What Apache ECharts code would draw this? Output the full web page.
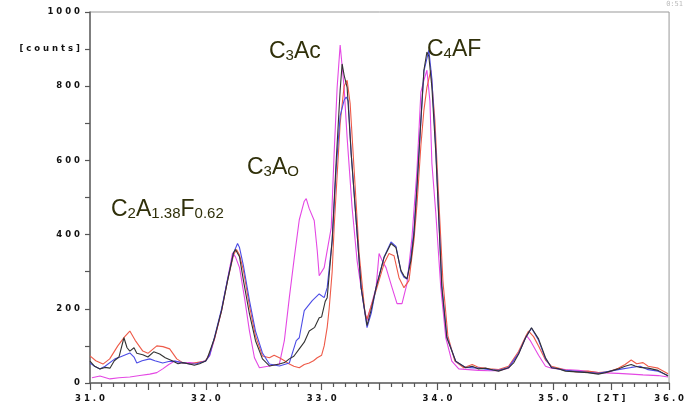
<!DOCTYPE html>
<html>
<head>
<meta charset="utf-8">
<script src="https://cdn.jsdelivr.net/npm/echarts@6/dist/echarts.min.js"></script>
<style>html,body{margin:0;padding:0;background:#fff}#c{width:687px;height:409px}#d{position:absolute;right:4px;top:0;font:7px monospace;color:#bbb}</style>
</head>
<body>
<div id="c"></div>
<div id="d"></div>
<script>
// Each series: [2theta, counts]
const magentaData = [[31.017,14],[31.086,19],[31.172,11],[31.25,14],[31.344,16],[31.43,20],[31.516,24],[31.577,28],[31.628,38],[31.68,50],[31.731,59],[31.800,54],[31.86,55],[31.904,54],[31.947,56],[31.998,60],[32.033,73],[32.076,120],[32.136,195],[32.188,280],[32.231,351],[32.256,340],[32.291,311],[32.334,230],[32.377,140],[32.420,68],[32.463,41],[32.549,46],[32.635,51],[32.678,114],[32.721,230],[32.764,338],[32.807,440],[32.850,490],[32.867,497],[32.893,470],[32.936,438],[32.962,357],[32.979,289],[33.022,311],[33.083,419],[33.108,619],[33.134,797],[33.160,911],[33.194,797],[33.220,662],[33.263,473],[33.306,330],[33.367,203],[33.392,168],[33.470,257],[33.496,349],[33.522,330],[33.556,311],[33.608,257],[33.651,214],[33.694,214],[33.737,268],[33.780,392],[33.823,573],[33.857,784],[33.883,816],[33.909,843],[33.935,760],[33.952,592],[33.986,457],[34.029,257],[34.072,122],[34.124,59],[34.184,38],[34.27,36],[34.356,34],[34.45,33],[34.528,33],[34.614,40],[34.701,80],[34.769,128],[34.80,115],[34.873,75],[34.933,45],[34.985,40],[35.105,36],[35.217,34],[35.389,28],[35.561,26],[35.673,24],[35.775,22],[35.905,20],[35.991,16]];
const redData = [[31.000,73],[31.05,60],[31.112,51],[31.17,65],[31.24,100],[31.30,125],[31.344,140],[31.39,115],[31.456,86],[31.50,80],[31.577,100],[31.63,98],[31.688,92],[31.749,65],[31.80,55],[31.861,51],[31.92,55],[31.998,59],[32.033,80],[32.076,120],[32.136,195],[32.188,276],[32.239,345],[32.265,360],[32.291,345],[32.325,303],[32.377,208],[32.429,127],[32.489,73],[32.549,68],[32.59,75],[32.635,68],[32.68,60],[32.721,51],[32.76,45],[32.807,41],[32.85,50],[32.893,54],[32.93,60],[32.962,68],[33.0,75],[33.022,100],[33.048,150],[33.065,200],[33.091,300],[33.108,420],[33.134,560],[33.160,700],[33.194,800],[33.220,816],[33.246,754],[33.281,573],[33.324,349],[33.375,186],[33.392,173],[33.43,210],[33.470,249],[33.539,322],[33.582,349],[33.625,343],[33.668,284],[33.711,257],[33.754,276],[33.797,384],[33.823,480],[33.857,640],[33.883,735],[33.909,797],[33.943,843],[33.978,708],[34.012,492],[34.047,276],[34.090,127],[34.150,59],[34.227,41],[34.30,50],[34.356,42],[34.45,38],[34.528,36],[34.614,45],[34.70,85],[34.761,125],[34.787,140],[34.83,125],[34.873,100],[34.933,62],[34.985,45],[35.05,40],[35.105,35],[35.2,30],[35.3,32],[35.389,28],[35.48,30],[35.561,40],[35.62,50],[35.673,62],[35.72,52],[35.775,55],[35.819,45],[35.905,40],[35.991,25]];
const blueData = [[31.000,54],[31.04,45],[31.086,38],[31.13,45],[31.215,65],[31.26,70],[31.344,81],[31.38,70],[31.404,54],[31.45,60],[31.516,65],[31.56,60],[31.628,54],[31.68,58],[31.731,59],[31.80,55],[31.861,51],[31.92,52],[31.998,59],[32.033,75],[32.076,125],[32.136,200],[32.188,280],[32.239,350],[32.274,376],[32.291,365],[32.325,316],[32.377,222],[32.429,140],[32.489,81],[32.549,51],[32.635,46],[32.721,54],[32.781,114],[32.807,122],[32.850,195],[32.919,222],[32.979,240],[33.022,230],[33.048,257],[33.091,384],[33.126,580],[33.160,720],[33.194,762],[33.212,771],[33.230,760],[33.255,619],[33.298,438],[33.341,257],[33.392,149],[33.43,190],[33.470,257],[33.539,340],[33.599,380],[33.642,368],[33.685,300],[33.711,285],[33.737,280],[33.771,340],[33.797,410],[33.823,530],[33.857,705],[33.883,840],[33.926,897],[33.952,820],[33.986,630],[34.012,445],[34.038,262],[34.081,125],[34.158,58],[34.244,42],[34.356,40],[34.45,36],[34.528,34],[34.614,42],[34.701,80],[34.761,122],[34.812,148],[34.873,115],[34.933,65],[34.985,42],[35.105,34],[35.389,26],[35.561,36],[35.673,42],[35.75,45],[35.819,36],[35.905,32],[35.991,20]];
const blackData = [[31.000,59],[31.04,45],[31.086,38],[31.13,42],[31.172,40],[31.21,60],[31.25,70],[31.293,122],[31.32,95],[31.344,86],[31.38,95],[31.404,80],[31.456,76],[31.50,70],[31.55,84],[31.602,78],[31.65,68],[31.714,59],[31.76,52],[31.80,55],[31.861,51],[31.90,48],[31.947,52],[31.998,59],[32.015,68],[32.076,122],[32.136,195],[32.188,276],[32.239,351],[32.256,360],[32.291,340],[32.325,276],[32.377,186],[32.429,114],[32.489,65],[32.549,46],[32.635,51],[32.68,55],[32.721,65],[32.76,72],[32.807,92],[32.85,110],[32.893,140],[32.94,150],[32.979,176],[33.00,178],[33.031,220],[33.048,230],[33.091,384],[33.126,600],[33.160,790],[33.177,860],[33.194,830],[33.220,797],[33.255,619],[33.298,438],[33.341,257],[33.392,155],[33.43,200],[33.470,257],[33.539,338],[33.599,376],[33.642,365],[33.685,303],[33.711,289],[33.737,281],[33.771,330],[33.797,400],[33.823,527],[33.857,708],[33.883,843],[33.909,892],[33.926,880],[33.952,797],[33.986,619],[34.012,438],[34.038,257],[34.081,122],[34.158,59],[34.244,41],[34.30,45],[34.356,38],[34.42,40],[34.48,35],[34.528,32],[34.614,41],[34.66,55],[34.701,78],[34.761,122],[34.812,149],[34.873,119],[34.933,68],[34.985,41],[35.05,38],[35.105,32],[35.2,30],[35.3,28],[35.389,24],[35.45,28],[35.561,38],[35.62,45],[35.673,50],[35.707,46],[35.75,42],[35.819,40],[35.905,34],[35.991,19]];

const xLabelValues = [31, 32, 33, 34, 35, 35.5, 36];
const yLabelText = {900: '[counts]'};
const xLabelText = {355: '[2T]'};
const spaced = s => String(s).split('').join(' ');

const chart = echarts.init(document.getElementById('c'), null, {renderer: 'canvas'});
const labelStyle = {fontFamily: 'DejaVu Sans', fontWeight: 'bold', fontSize: 8.5, color: '#111'};
const textColor = '#30300a';
const tickLine = {color: '#555', width: 1.2};
function formula(parts, x, y) {
  return {
    type: 'text', x: x, y: y, z: 100,
    style: {
      text: parts.map(p => '{' + (p[1] ? 's' : 'b') + '|' + p[0] + '}').join(''),
      verticalAlign: 'top', align: 'left',
      rich: {
        b: {fontFamily: 'Liberation Sans, Arial', fontSize: 23, fill: textColor, color: textColor, lineHeight: 28, verticalAlign: 'bottom'},
        s: {fontFamily: 'Liberation Sans, Arial', fontSize: 15, fill: textColor, color: textColor, lineHeight: 14, verticalAlign: 'bottom'}
      }
    }
  };
}
const xFormatter = v => {
  const r = Math.round(v * 10);
  if (xLabelText[r]) return spaced(xLabelText[r]);
  if (r % 10 === 0) return spaced((r / 10).toFixed(1));
  return '';
};
function build(variant) {
  let axisLabel;
  if (variant === 0) axisLabel = Object.assign({margin: 11, customValues: xLabelValues, formatter: xFormatter}, labelStyle);
  else if (variant === 1) axisLabel = Object.assign({margin: 11, formatter: xFormatter}, labelStyle);
  else if (variant === 2) axisLabel = {margin: 11, formatter: xFormatter};
  else axisLabel = {};
  return {
    animation: false,
    grid: {left: 90, right: 16, top: 12, bottom: 26, show: true, borderColor: '#999', borderWidth: 1},
    xAxis: {
      type: 'value', min: 31, max: 36, interval: 0.5,
      axisLine: {show: true, onZero: false, lineStyle: {color: '#666', width: 1.5}},
      axisTick: {show: true, length: 7, lineStyle: tickLine},
      minorTick: {show: true, splitNumber: 5, length: 4, lineStyle: tickLine},
      splitLine: {show: false},
      axisLabel: axisLabel
    },
    yAxis: {
      type: 'value', min: 0, max: 1000, interval: 100,
      axisLine: {show: true, onZero: false, lineStyle: {color: '#666', width: 1.5}},
      axisTick: {show: true, length: 5, lineStyle: tickLine},
      splitLine: {show: false},
      axisLabel: Object.assign({margin: 10, formatter: v => {
        if (yLabelText[v]) return spaced(yLabelText[v]);
        if (v % 200 === 0) return spaced(v);
        return '';
      }}, labelStyle)
    },
    series: [
      {type: 'line', data: magentaData, showSymbol: false, lineStyle: {color: '#e448e4', width: 1.1}},
      {type: 'line', data: redData, showSymbol: false, lineStyle: {color: '#ee5a48', width: 1.1}},
      {type: 'line', data: blueData, showSymbol: false, lineStyle: {color: '#4c4ce6', width: 1.1}},
      {type: 'line', data: blackData, showSymbol: false, lineStyle: {color: '#333333', width: 1.1}}
    ],
    graphic: [
      formula([['C'],['2',1],['A'],['1.38',1],['F'],['0.62',1]], 111, 193),
      formula([['C'],['3',1],['A'],['O',1]], 247, 151),
      formula([['C'],['3',1],['Ac']], 269, 35),
      formula([['C'],['4',1],['AF']], 427, 33)
    ]
  };
}
function countBottomTicks() {
  try {
    const list = chart.getZr().storage.getDisplayList(true);
    return list.filter(el => el.shape && el.shape.x1 !== undefined && Math.abs(el.shape.x1 - el.shape.x2) < 0.5 &&
      Math.min(el.shape.y1, el.shape.y2) >= 381 && Math.max(el.shape.y1, el.shape.y2) > 385 && !el.invisible && !el.ignore).length;
  } catch (e) { return -1; }
}
let used = -1, n = 0;
for (let v = 0; v < 4; v++) {
  try {
    chart.setOption(build(v), true);
    n = countBottomTicks();
    used = v;
    if (n > 5) break;
  } catch (e) { }
}
document.getElementById('d').textContent = used + ':' + n;
</script>
</body>
</html>
